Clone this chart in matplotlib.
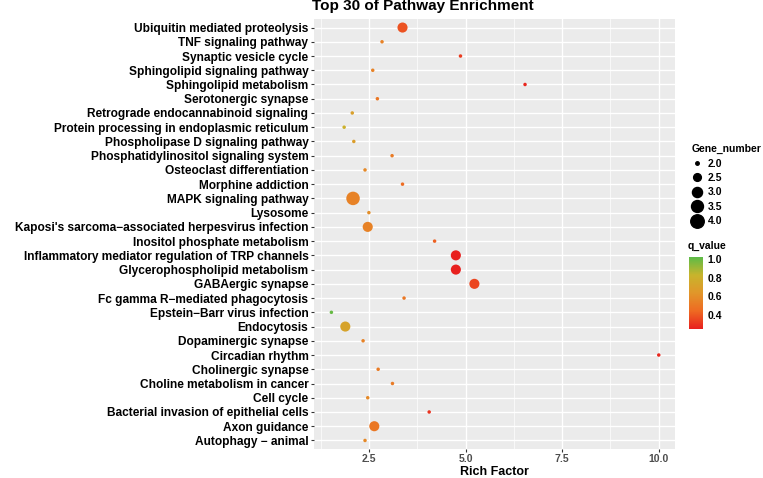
import numpy as np
import matplotlib
matplotlib.use("Agg")
import matplotlib.pyplot as plt
from matplotlib.colors import LinearSegmentedColormap, Normalize
from matplotlib.lines import Line2D

plt.rcParams['font.family'] = ['Liberation Sans', 'DejaVu Sans']

# pathways, top to bottom
pathways = [
    "Ubiquitin mediated proteolysis", "TNF signaling pathway", "Synaptic vesicle cycle",
    "Sphingolipid signaling pathway", "Sphingolipid metabolism", "Serotonergic synapse",
    "Retrograde endocannabinoid signaling", "Protein processing in endoplasmic reticulum",
    "Phospholipase D signaling pathway", "Phosphatidylinositol signaling system",
    "Osteoclast differentiation", "Morphine addiction", "MAPK signaling pathway", "Lysosome",
    "Kaposi's sarcoma\u2212associated herpesvirus infection", "Inositol phosphate metabolism",
    "Inflammatory mediator regulation of TRP channels", "Glycerophospholipid metabolism",
    "GABAergic synapse", "Fc gamma R\u2212mediated phagocytosis", "Epstein\u2212Barr virus infection",
    "Endocytosis", "Dopaminergic synapse", "Circadian rhythm", "Cholinergic synapse",
    "Choline metabolism in cancer", "Cell cycle", "Bacterial invasion of epithelial cells",
    "Axon guidance", "Autophagy \u2212 animal",
]
rich_factor = [3.37, 2.84, 4.87, 2.60, 6.54, 2.72, 2.07, 1.86, 2.11, 3.10,
               2.40, 3.37, 2.09, 2.50, 2.47, 4.20, 4.75, 4.75, 5.23, 3.41,
               1.53, 1.89, 2.35, 10.0, 2.74, 3.11, 2.47, 4.06, 2.64, 2.40]
gene_number = [3, 2, 2, 2, 2, 2, 2, 2, 2, 2,
               2, 2, 4, 2, 3, 2, 3, 3, 3, 2,
               2, 3, 2, 2, 2, 2, 2, 2, 3, 2]
q_value = [0.38, 0.55, 0.32, 0.55, 0.27, 0.50, 0.70, 0.80, 0.68, 0.52,
           0.58, 0.45, 0.55, 0.60, 0.55, 0.42, 0.25, 0.25, 0.35, 0.50,
           1.00, 0.72, 0.55, 0.27, 0.52, 0.52, 0.58, 0.30, 0.50, 0.58]

size_legend = [2.0, 2.5, 3.0, 3.5, 4.0]


def marker_area(g):
    # ggplot-like area scaling, returns scatter size in pt^2
    d_px = 2.0 * np.sqrt((np.asarray(g) - 2.0) / 2.0 * 35 + 1) + 1.5
    return (d_px * 0.72) ** 2


cmap = LinearSegmentedColormap.from_list(
    "qv", ["#e8201e", "#ee6a22", "#e1962a", "#c8b42c", "#5cbb47"])
norm = Normalize(vmin=0.25, vmax=1.02)

fig = plt.figure(figsize=(7.63, 4.78), dpi=100)
W, H = 763, 478
ax = fig.add_axes([314 / W, 1 - 449 / H, (675 - 314) / W, (449 - 19) / H])
ax.set_facecolor("#EBEBEB")

n = len(pathways)
ypos = np.arange(n)[::-1]
ax.scatter(rich_factor, ypos, s=marker_area(gene_number), c=q_value,
           cmap=cmap, norm=norm, edgecolors="none", zorder=3)

ax.set_xlim(1.08, 10.42)
ax.set_ylim(-0.6, n - 0.4)
ax.set_yticks(ypos)
ax.set_yticklabels(pathways, fontsize=8.6, fontweight="bold", color="black")
ax.set_xticks([2.5, 5.0, 7.5, 10.0])
ax.set_xticklabels(["2.5", "5.0", "7.5", "10.0"], fontsize=7.5, fontweight="bold", color="#4d4d4d")
ax.set_xticks([1.25, 3.75, 6.25, 8.75], minor=True)
ax.tick_params(axis="both", which="major", length=2.5, color="#333333", width=0.8, pad=1.5)
ax.tick_params(axis="x", which="major", pad=1)
ax.tick_params(axis="x", which="minor", length=0)
ax.grid(True, which="major", color="white", linewidth=1.0, zorder=0)
ax.grid(True, which="minor", axis="x", color="white", linewidth=0.5, zorder=0)
ax.set_axisbelow(True)
for sp in ax.spines.values():
    sp.set_visible(False)

fig.text((314 + 675) / 2 / W, 1 - 472 / H, "Rich Factor", fontsize=9,
         fontweight="bold", ha="center", va="center")
fig.text(423 / W, 1 - 6 / H, "Top 30 of Pathway Enrichment", fontsize=11,
         fontweight="bold", ha="center", va="center")

# size legend
handles = [Line2D([], [], marker="o", linestyle="none", color="black",
                  markersize=np.sqrt(marker_area(g))) for g in size_legend]
leg = fig.legend(handles, [f"{g:.1f}" for g in size_legend], title="Gene_number",
                 loc="upper left", bbox_to_anchor=(686 / W, 1 - 139 / H),
                 frameon=False, fontsize=7.5, title_fontsize=7.5,
                 handletextpad=0.4, labelspacing=0.42, handlelength=1.2,
                 borderpad=0, alignment="left")
leg.get_title().set_fontweight("bold")
for t in leg.get_texts():
    t.set_fontweight("bold")

# colour bar
cax = fig.add_axes([689 / W, 1 - 329 / H, 14 / W, 72 / H])
sm = plt.cm.ScalarMappable(cmap=cmap, norm=norm)
cb = fig.colorbar(sm, cax=cax)
cb.set_ticks([0.4, 0.6, 0.8, 1.0])
cb.set_ticklabels(["0.4", "0.6", "0.8", "1.0"])
cb.outline.set_visible(False)
cax.tick_params(length=0, labelsize=7.5, pad=3)
for t in cax.get_yticklabels():
    t.set_fontweight("bold")
fig.text(688 / W, 1 - 246 / H, "q_value", fontsize=7.5, fontweight="bold",
         ha="left", va="center")

fig.savefig("out.png", dpi=100)
